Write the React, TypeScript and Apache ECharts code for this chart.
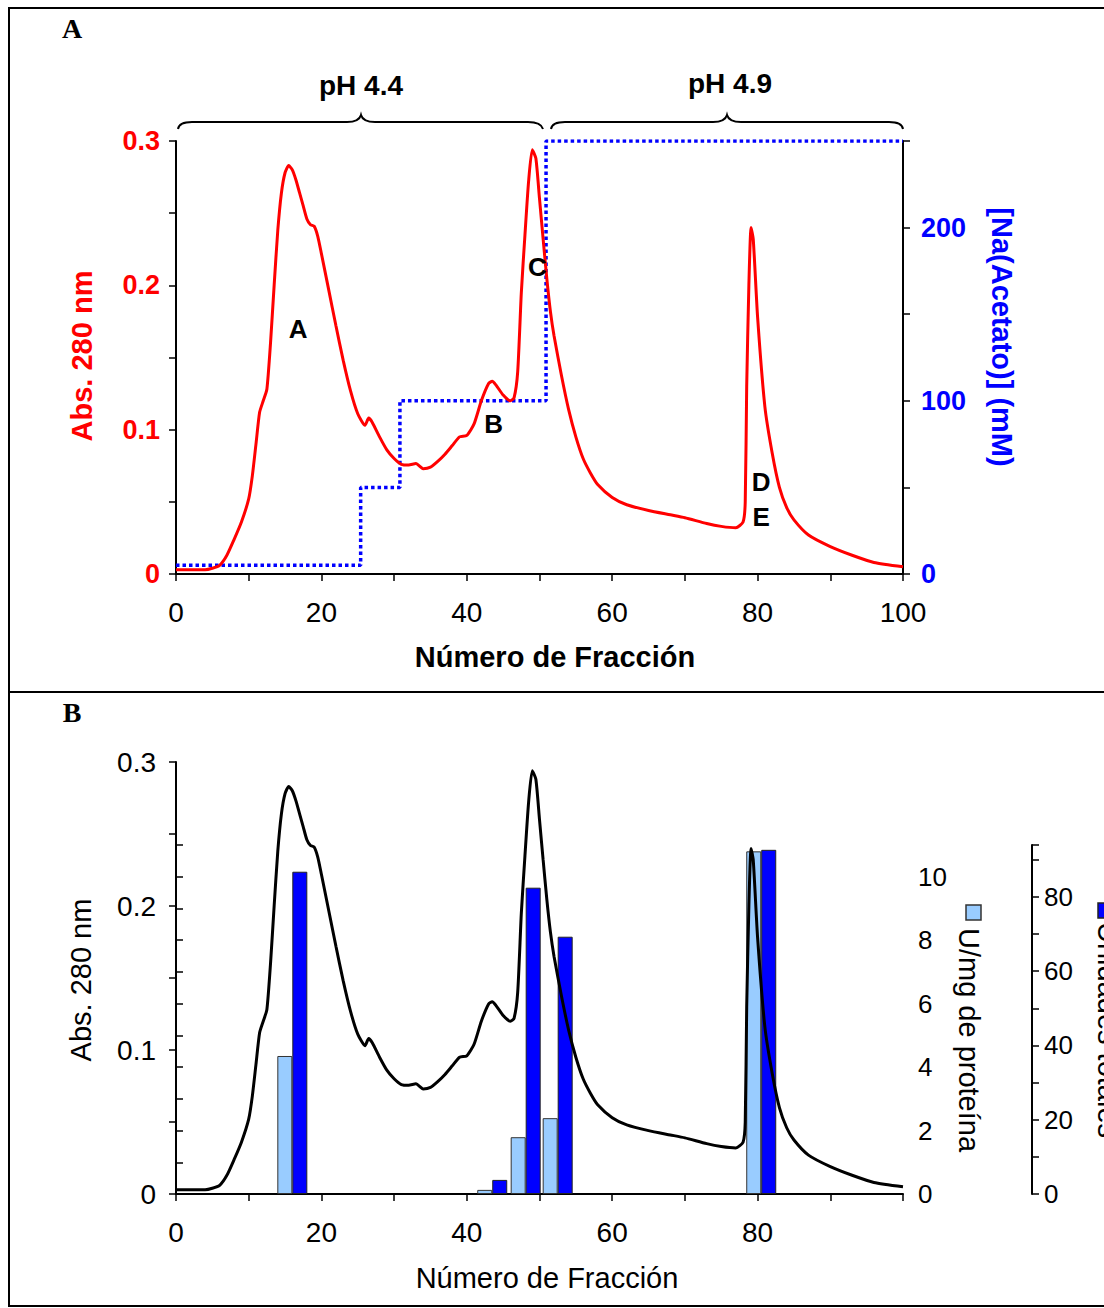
import React, { useEffect, useRef } from "react";
import * as echarts from "echarts";

// Absorbance 280 nm profile (fraction number, absorbance)
const absFraction = [0, 2, 4, 5, 6, 7, 8, 9, 10, 10.5, 11, 11.5, 12, 12.5, 13, 13.5, 14, 14.5, 15, 15.5, 16, 16.5, 17, 17.5, 18, 18.5, 19, 19.5, 20, 21, 22, 23, 24, 25, 26, 26.5, 27, 28, 29, 30, 31, 32, 33, 34, 35, 36, 37, 38, 39, 40, 41, 42, 43, 43.5, 44, 45, 46, 46.5, 47, 47.5, 48, 48.5, 49, 49.5, 50, 50.5, 51, 51.5, 52, 53, 54, 55, 56, 57, 58, 60, 62, 65, 68, 70, 73, 75, 77, 78, 78.3, 78.5, 78.8, 79.1, 79.4, 80, 81, 82, 83, 84, 85, 87, 90, 93, 96, 100];
const absValue = [0.003, 0.003, 0.003, 0.004, 0.006, 0.013, 0.024, 0.036, 0.052, 0.068, 0.09, 0.112, 0.12, 0.128, 0.16, 0.2, 0.238, 0.264, 0.278, 0.283, 0.28, 0.273, 0.264, 0.255, 0.246, 0.242, 0.241, 0.234, 0.222, 0.197, 0.172, 0.148, 0.127, 0.111, 0.103, 0.108, 0.105, 0.095, 0.086, 0.08, 0.076, 0.0755, 0.0765, 0.073, 0.074, 0.078, 0.083, 0.089, 0.095, 0.096, 0.104, 0.12, 0.132, 0.1335, 0.131, 0.124, 0.12, 0.122, 0.14, 0.195, 0.235, 0.272, 0.294, 0.288, 0.26, 0.232, 0.205, 0.182, 0.165, 0.138, 0.114, 0.095, 0.08, 0.07, 0.062, 0.053, 0.048, 0.044, 0.041, 0.039, 0.035, 0.033, 0.032, 0.036, 0.05, 0.13, 0.2, 0.24, 0.232, 0.178, 0.116, 0.084, 0.06, 0.046, 0.0375, 0.027, 0.019, 0.013, 0.008, 0.005];

// Sodium acetate gradient (steps)
const naFraction = [0, 25.4, 30.8, 50.9, 100];
const naValue = [5, 50, 100, 250, 250];

// Activity bars
const barFraction = [16, 43.5, 48.1, 52.5, 80.5];
const specificActivity = [4.35, 0.13, 1.79, 2.39, 10.8];
const totalUnits = [86.8, 3.8, 82.5, 69.3, 92.7];

// Peak letters in panel A
const peakLabels = ["A", "B", "C", "D", "E"];
const peakLabelFraction = [16.8, 43.7, 49.7, 80.5, 80.5];
const peakLabelAbs = [0.17, 0.104, 0.213, 0.064, 0.0395];

const SANS = '"Liberation Sans", Arial, sans-serif';
const SERIF = '"Liberation Serif", "Times New Roman", serif';

echarts.graphic.registerShape(
  "braceLeft",
  echarts.graphic.extendPath(
    "M178 129 Q179 122 192 122 L347 122 Q359 122 361 115 Q363 122 375 122 L528 122 Q541 122 543 129",
    {}
  )
);
echarts.graphic.registerShape(
  "braceRight",
  echarts.graphic.extendPath(
    "M551 129 Q552 122 565 122 L713 122 Q725 122 727 115 Q729 122 741 122 L889 122 Q902 122 903 129",
    {}
  )
);

function txt(text: string, x: number, y: number, font: string, fill: string, rotation = 0) {
  return {
    type: "text",
    x,
    y,
    rotation,
    style: {
      text,
      font,
      fill,
      align: "center",
      verticalAlign: "middle",
      textAlign: "center",
      textVerticalAlign: "middle",
    },
  };
}

export default function App() {
  const ref = useRef<HTMLDivElement>(null);
  useEffect(() => {
    if (!ref.current) return;
    const chart = echarts.init(ref.current, null, { renderer: "svg" });
    const absData = absFraction.map((f, i) => [f, absValue[i]]);
    const naData = naFraction.map((f, i) => [f, naValue[i]]);
    const uData = barFraction.map((f, i) => [f, specificActivity[i]]);
    const tData = barFraction.map((f, i) => [f, totalUnits[i]]);

    const absFmt = (v: number) => {
      const r = Math.round(v * 100);
      if (r % 10 !== 0) return "";
      return r === 0 ? "0" : (r / 100).toFixed(1);
    };

    const axisLine = { show: true, lineStyle: { color: "#000", width: 2 } };
    const axisTick = (len = 7) => ({ show: true, inside: false, length: len, lineStyle: { color: "#000", width: 1.5 } });

    const option: any = {
      animation: false,
      backgroundColor: "#fff",
      grid: [
        { left: 176, right: 201, top: 141, bottom: 734 },
        { left: 176, right: 201, top: 762, bottom: 114 },
        { left: 176, right: 201, top: 845, bottom: 114 },
      ],
      xAxis: [
        {
          type: "value", gridIndex: 0, min: 0, max: 100, interval: 10,
          axisLine, axisTick: axisTick(7), splitLine: { show: false },
          axisLabel: {
            margin: 24, fontSize: 28, color: "#000", fontFamily: SANS,
            formatter: (v: number) => (v % 20 === 0 ? String(v) : ""),
          },
        },
        {
          type: "value", gridIndex: 1, min: 0, max: 100, interval: 10,
          axisLine, axisTick: axisTick(7), splitLine: { show: false },
          axisLabel: {
            margin: 24, fontSize: 28, color: "#000", fontFamily: SANS,
            formatter: (v: number) => (v % 20 === 0 && v < 100 ? String(v) : ""),
          },
        },
        { type: "value", gridIndex: 2, min: 0, max: 100, show: false },
      ],
      yAxis: [
        {
          type: "value", gridIndex: 0, min: 0, max: 0.3, interval: 0.05, position: "left",
          axisLine, axisTick: axisTick(7), splitLine: { show: false },
          axisLabel: { margin: 16, fontSize: 27, fontWeight: "bold", color: "#FF0000", fontFamily: SANS, formatter: absFmt },
        },
        {
          type: "value", gridIndex: 0, min: 0, max: 250, interval: 50, position: "right",
          axisLine, axisTick: axisTick(7), splitLine: { show: false },
          axisLabel: {
            margin: 18, fontSize: 27, fontWeight: "bold", color: "#0000FF", fontFamily: SANS,
            formatter: (v: number) => (v % 100 === 0 ? String(v) : ""),
          },
        },
        {
          type: "value", gridIndex: 1, min: 0, max: 0.3, interval: 0.05, position: "left",
          axisLine, axisTick: axisTick(7), splitLine: { show: false },
          axisLabel: { margin: 20, fontSize: 28, color: "#000", fontFamily: SANS, formatter: absFmt },
        },
        {
          type: "value", gridIndex: 2, min: 0, max: 11, interval: 1, position: "right", offset: 0,
          axisLine, axisTick: axisTick(7), splitLine: { show: false },
          axisLabel: {
            margin: 15, fontSize: 26, color: "#000", fontFamily: SANS,
            formatter: (v: number) => (v % 2 === 0 && v <= 10 ? String(v) : ""),
          },
        },
        {
          type: "value", gridIndex: 2, min: 0, max: 94, interval: 10, position: "right", offset: 129,
          axisLine, axisTick: axisTick(7), splitLine: { show: false },
          axisLabel: {
            margin: 12, fontSize: 26, color: "#000", fontFamily: SANS,
            formatter: (v: number) => (v % 20 === 0 ? String(v) : ""),
          },
        },
      ],
      series: [
        {
          type: "line", name: "[Na(Acetato)]", xAxisIndex: 0, yAxisIndex: 1, data: naData, step: "end",
          symbol: "none", z: 3, lineStyle: { color: "#0000FF", width: 3.5, type: [3.5, 3] },
        },
        {
          type: "line", name: "Abs A", xAxisIndex: 0, yAxisIndex: 0, data: absData, smooth: 0.2,
          symbol: "none", z: 4, lineStyle: { color: "#FF0000", width: 3 },
          markPoint: {
            symbol: "circle", symbolSize: 1, itemStyle: { color: "rgba(0,0,0,0)" },
            label: {
              show: true, position: "inside", formatter: (p: any) => p.name,
              fontSize: 26, fontWeight: "bold", color: "#000", fontFamily: SANS,
            },
            data: peakLabels.map((n, i) => ({ name: n, coord: [peakLabelFraction[i], peakLabelAbs[i]] })),
          },
        },
        {
          type: "bar", name: "U/mg de proteína", xAxisIndex: 2, yAxisIndex: 3, data: uData,
          barWidth: 15, barGap: "0%", z: 2,
          itemStyle: { color: "#99CCFF", borderColor: "#333", borderWidth: 1 },
        },
        {
          type: "bar", name: "Unidades totales", xAxisIndex: 2, yAxisIndex: 4, data: tData,
          barWidth: 15, barGap: "0%", z: 2,
          itemStyle: { color: "#0000FF", borderColor: "#222", borderWidth: 1 },
        },
        {
          type: "line", name: "Abs B", xAxisIndex: 1, yAxisIndex: 2, data: absData, smooth: 0.2,
          symbol: "none", z: 6, lineStyle: { color: "#000", width: 3 },
        },
      ],
      graphic: [
        { type: "rect", shape: { x: 9, y: 8, width: 1200, height: 1298 }, style: { fill: "none", stroke: "#000", lineWidth: 2 }, silent: true },
        { type: "line", shape: { x1: 9, y1: 692, x2: 1110, y2: 692 }, style: { stroke: "#000", lineWidth: 2 } },
        txt("A", 72, 28, `bold 28px ${SERIF}`, "#000"),
        txt("B", 72, 712, `bold 28px ${SERIF}`, "#000"),
        txt("pH 4.4", 361, 85, `bold 28px ${SANS}`, "#000"),
        txt("pH 4.9", 730, 83, `bold 28px ${SANS}`, "#000"),
        { type: "braceLeft", style: { stroke: "#000", fill: "none", lineWidth: 2 } },
        { type: "braceRight", style: { stroke: "#000", fill: "none", lineWidth: 2 } },
        txt("Abs. 280 nm", 82, 356, `bold 29px ${SANS}`, "#FF0000", Math.PI / 2),
        txt("[Na(Acetato)] (mM)", 1002, 337, `bold 29px ${SANS}`, "#0000FF", -Math.PI / 2),
        txt("Número de Fracción", 555, 657, `bold 29px ${SANS}`, "#000"),
        txt("Abs. 280 nm", 81, 980, `29px ${SANS}`, "#000", Math.PI / 2),
        txt("Número de Fracción", 547, 1278, `29px ${SANS}`, "#000"),
        { type: "rect", shape: { x: 966, y: 905, width: 15, height: 15 }, style: { fill: "#99CCFF", stroke: "#333", lineWidth: 1.5 } },
        txt("U/mg de proteína", 969, 1040, `29px ${SANS}`, "#000", -Math.PI / 2),
        { type: "rect", shape: { x: 1098, y: 903, width: 15, height: 15 }, style: { fill: "#0000FF", stroke: "#222", lineWidth: 1.5 } },
        txt("Unidades totales", 1108, 1030, `29px ${SANS}`, "#000", -Math.PI / 2),
      ],
    };
    chart.setOption(option);
    return () => chart.dispose();
  }, []);
  return (
    <div
      ref={ref}
      style={{ position: "absolute", left: 0, top: 0, width: 1104, height: 1308, background: "#fff" }}
    />
  );
}
